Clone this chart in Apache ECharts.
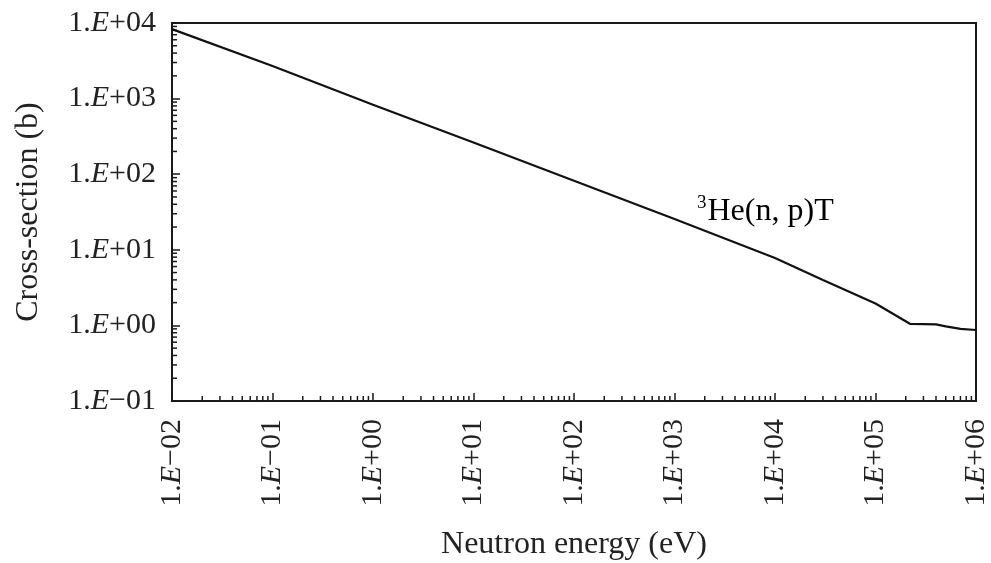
<!DOCTYPE html>
<html><head><meta charset="utf-8">
<script src="https://cdn.jsdelivr.net/npm/echarts@6/dist/echarts.min.js"></script>
<style>html,body{margin:0;padding:0;background:#fff}#c{width:991px;height:563px}</style>
</head><body><div id="c"></div>
<script>
// Data (energy in eV, cross-section in barns)
var energy = [0.01, 0.1, 1, 10, 100, 1000, 10000, 30000, 100000, 220000, 300000, 400000, 500000, 700000, 1000000];
var crossSection = [8300, 2700, 830, 262, 82, 25.5, 7.8, 4.0, 1.95, 1.05, 1.04, 1.03, 0.97, 0.9, 0.87];
var xTickExponents = [-2, -1, 0, 1, 2, 3, 4, 5, 6];
var yTickExponents = [-1, 0, 1, 2, 3, 4];
var seriesLabel = '3He(n, p)T';
var xName = 'Neutron energy (eV)';
var yName = 'Cross-section (b)';

var X_MIN = 0.01, X_MAX = 1e6, Y_MIN = 0.1, Y_MAX = 1e4;
var minorMult = [2,3,4,5,6,7,8,9];
var xMinor = [], yMinor = [];
xTickExponents.slice(0,-1).forEach(function(e){ minorMult.forEach(function(m){ xMinor.push(m*Math.pow(10,e)); }); });
yTickExponents.slice(0,-1).forEach(function(e){ minorMult.forEach(function(m){ yMinor.push(m*Math.pow(10,e)); }); });

var FONT = '"Liberation Serif", "DejaVu Serif", serif';
var FS = 30;
function fmt(v){
  var e = Math.round(Math.log10(v));
  var s = (e < 0 ? '\u2212' : '+') + (Math.abs(e) < 10 ? '0' : '') + Math.abs(e);
  return '1.{i|E}' + s;
}
var rich = { i: { fontStyle: 'italic', fontFamily: FONT, fontSize: FS, color: '#222' } };

var chart = echarts.init(document.getElementById('c'), null, {renderer: 'canvas'});
var lineCol = '#1a1a1a';
chart.setOption({
  animation: false,
  grid: { left: 172, right: 15, top: 23, bottom: 162, show: true, borderColor: lineCol, borderWidth: 2, containLabel: false, outerBoundsMode: 'none' },
  xAxis: {
    type: 'log', logBase: 10, min: X_MIN, max: X_MAX, interval: 1,
    name: xName, nameLocation: 'middle', nameGap: 128,
    nameTextStyle: { fontFamily: FONT, fontSize: 32, color: '#222' },
    axisLine: { lineStyle: { color: lineCol, width: 2 } },
    axisTick: { inside: true, length: 8, lineStyle: { color: lineCol, width: 1.5 } },
    splitLine: { show: false },
    axisLabel: { rotate: 90, margin: 18, fontFamily: FONT, fontSize: FS, color: '#222', formatter: fmt, rich: rich, showMinLabel: true, showMaxLabel: true }
  },
  yAxis: {
    type: 'log', logBase: 10, min: Y_MIN, max: Y_MAX, interval: 1,
    name: yName, nameLocation: 'middle', nameGap: 127,
    nameTextStyle: { fontFamily: FONT, fontSize: 32, color: '#222' },
    axisLine: { lineStyle: { color: lineCol, width: 2 } },
    axisTick: { inside: true, length: 8, lineStyle: { color: lineCol, width: 1.5 } },
    splitLine: { show: false },
    axisLabel: { margin: 16, fontFamily: FONT, fontSize: FS, color: '#222', formatter: fmt, rich: rich }
  },
  series: [
    {
      type: 'line', name: seriesLabel, showSymbol: false, smooth: false,
      data: energy.map(function(e, i){ return [e, crossSection[i]]; }),
      lineStyle: { color: '#111', width: 2.2 }, z: 5
    },
    {
      type: 'custom', coordinateSystem: 'cartesian2d', silent: true, clip: false,
      data: xMinor.map(function(v){ return [v, Y_MIN]; }),
      renderItem: function(params, api){
        var p = api.coord([api.value(0), api.value(1)]);
        return { type: 'line', shape: { x1: p[0], y1: p[1], x2: p[0], y2: p[1] - 5 }, style: { stroke: lineCol, lineWidth: 1.5 } };
      }
    },
    {
      type: 'custom', coordinateSystem: 'cartesian2d', silent: true, clip: false,
      data: yMinor.map(function(v){ return [X_MIN, v]; }),
      renderItem: function(params, api){
        var p = api.coord([api.value(0), api.value(1)]);
        return { type: 'line', shape: { x1: p[0], y1: p[1], x2: p[0] + 5, y2: p[1] }, style: { stroke: lineCol, lineWidth: 1.5 } };
      }
    }
  ],
  graphic: [{
    type: 'text', left: 697, top: 194,
    style: {
      text: '{s|3}{m|He(n, p)T}',
      rich: {
        s: { fontFamily: FONT, fontSize: 19, color: '#222', verticalAlign: 'top', padding: [0,1,16,0] },
        m: { fontFamily: FONT, fontSize: 32, color: '#222' }
      }
    }
  }]
});
</script></body></html>
